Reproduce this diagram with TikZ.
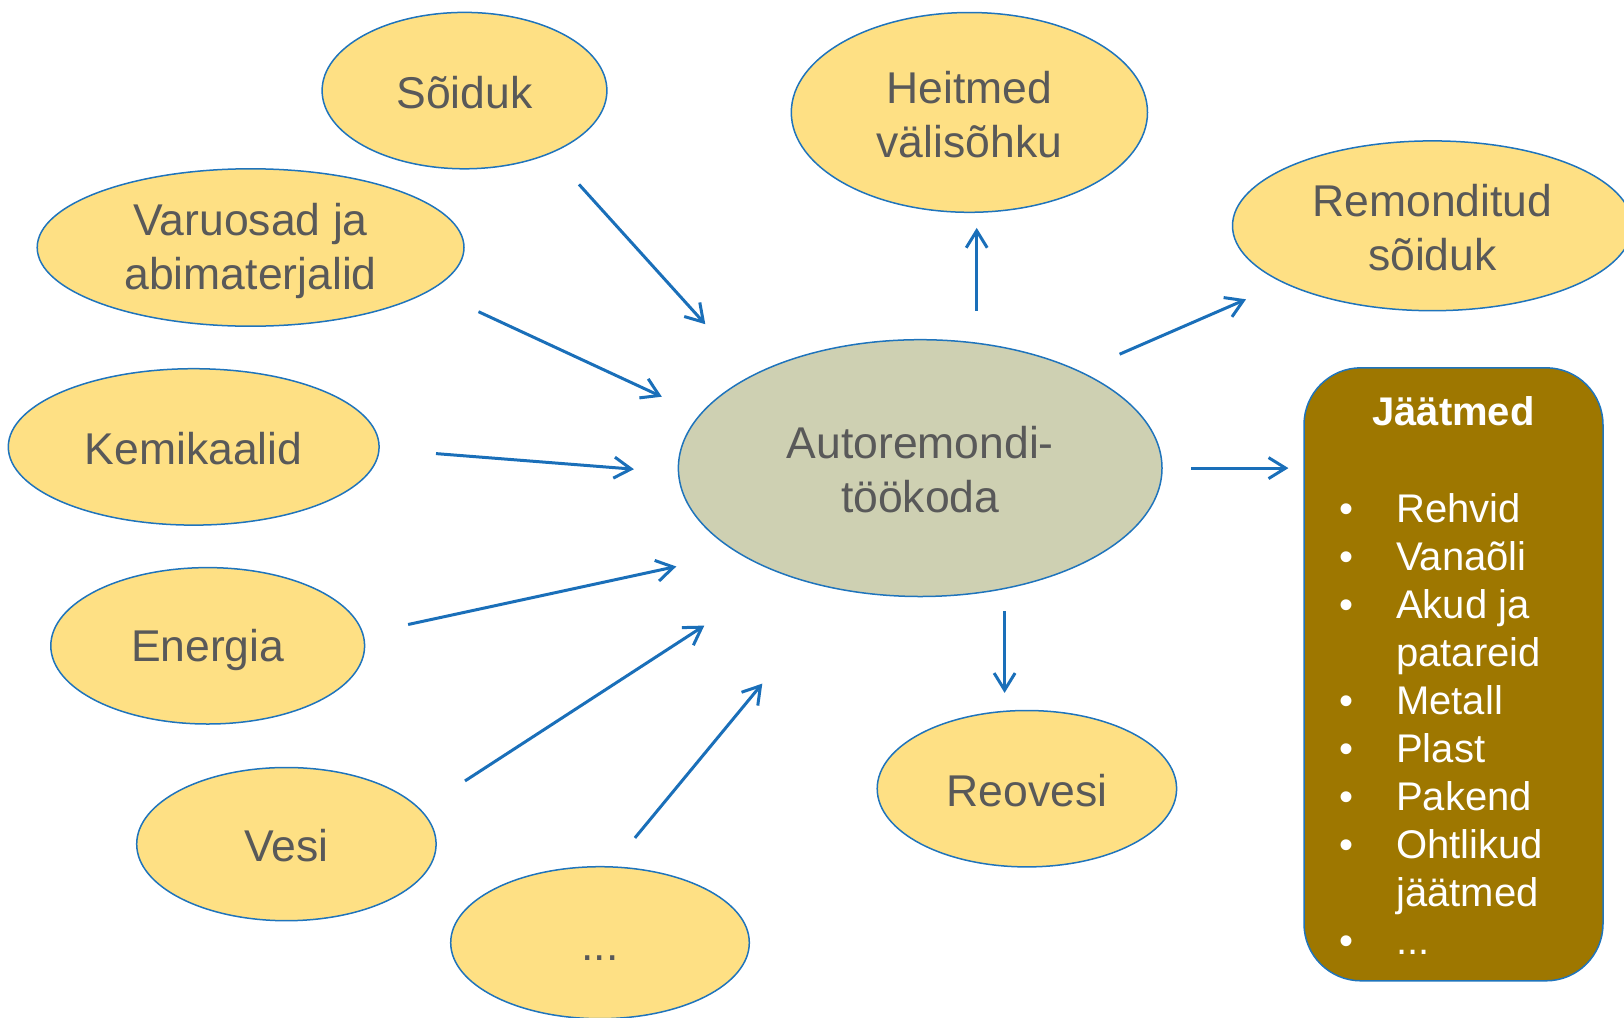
\documentclass[tikz,border=0pt]{standalone}
\usepackage{fontspec}
\setmainfont{Liberation Sans}
\usetikzlibrary{shapes.geometric,arrows.meta}
\definecolor{bubblefill}{HTML}{FEE084}
\definecolor{hubfill}{HTML}{CED0B2}
\definecolor{wastefill}{HTML}{9E7700}
\definecolor{edgeblue}{HTML}{1F74BC}
\definecolor{flowblue}{HTML}{1A6FB9}
\definecolor{txtgray}{HTML}{595959}
% uniform line strut so every label line is centred the same way
\newcommand{\bstr}{\rule[-0.1em]{0pt}{1em}}
\begin{document}
\begin{tikzpicture}[x=1pt,y=-1pt,
  bubble/.style={ellipse, draw=edgeblue, line width=1.5pt, fill=bubblefill,
    inner sep=0pt, text=txtgray, align=center,
    font=\fontsize{44.5}{54}\selectfont},
  flow/.style={draw=flowblue, line width=3pt,
    -{Straight Barb[length=17pt,width=21pt]}},
  boxtext/.style={text=white, inner sep=0pt, font=\fontsize{40}{48}\selectfont}]
\useasboundingbox (0,0) rectangle (1624,1017);

% input and output bubbles
\node[bubble, minimum width=284.8pt, minimum height=156.4pt] (soiduk) at (464.5,90.6) {\bstr Sõiduk};
\node[bubble, minimum width=356.2pt, minimum height=199.8pt] (heitmed) at (969.4,112.4) {\bstr Heitmed\\\bstr välisõhku};
\node[bubble, minimum width=399.8pt, minimum height=169.8pt] (remont) at (1432.4,225.8) {\bstr Remonditud\\\bstr sõiduk};
\node[bubble, minimum width=426.8pt, minimum height=157.4pt] (varuosad) at (250.6,247.5) {\bstr Varuosad ja\\\bstr abimaterjalid};
\node[bubble, minimum width=370.8pt, minimum height=156.4pt] (kemikaalid) at (193.7,446.9) {\bstr Kemikaalid};
\node[bubble, minimum width=313.8pt, minimum height=156.4pt] (energia) at (207.7,645.8) {\bstr Energia};
\node[bubble, minimum width=299.4pt, minimum height=153.2pt] (vesi) at (286.4,844.1) {\bstr Vesi};
\node[bubble, minimum width=298.6pt, minimum height=152pt] (muu) at (600,942.7) {\bstr ...};
\node[bubble, minimum width=299.4pt, minimum height=156.4pt] (reovesi) at (1026.9,788.7) {\bstr Reovesi};

% the workshop in the middle
\node[bubble, fill=hubfill, minimum width=483.6pt, minimum height=256.8pt] (hub) at (920.2,468.1) {\bstr Autoremondi-\\\bstr töökoda};

% waste box
\node[draw=edgeblue, line width=1.5pt, fill=wastefill, rounded corners=57pt,
  minimum width=299pt, minimum height=613pt, inner sep=0pt] (jaatmed) at (1453.5,674.3) {};
\node[boxtext, font=\bfseries\fontsize{40}{48}\selectfont, anchor=base] (jtitle) at (1453.5,425.5) {Jäätmed};
\node[boxtext, anchor=base west] (jlist) at (1339,522) {%
  \begin{tabular}[t]{@{}l@{\hspace{43pt}}l@{}}
  • & Rehvid\\
  • & Vanaõli\\
  • & Akud ja\\
    & patareid\\
  • & Metall\\
  • & Plast\\
  • & Pakend\\
  • & Ohtlikud\\
    & jäätmed\\
  • & ...
  \end{tabular}};

% arrow end points
\coordinate (a1s) at (579,184.4);    \coordinate (a1e) at (705.3,324.2);
\coordinate (a2s) at (478.5,311.7);  \coordinate (a2e) at (661.8,396.7);
\coordinate (a3s) at (436,453.6);    \coordinate (a3e) at (633.9,469.2);
\coordinate (a4s) at (408.1,624.5);  \coordinate (a4e) at (676.3,566.5);
\coordinate (a5s) at (465,780.9);    \coordinate (a5e) at (704.3,625.6);
\coordinate (a6s) at (634.9,837.9);  \coordinate (a6e) at (762.3,683.6);
\coordinate (b1s) at (976.7,310.7);  \coordinate (b1e) at (976.7,227.9);
\coordinate (b2s) at (1119.6,354.2); \coordinate (b2e) at (1246,299.3);
\coordinate (b3s) at (1191,468.1);   \coordinate (b3e) at (1288.4,468.1);
\coordinate (b4s) at (1004.6,611.1); \coordinate (b4e) at (1004.6,692.9);

% inflows
\draw[flow] (a1s) -- (a1e);
\draw[flow] (a2s) -- (a2e);
\draw[flow] (a3s) -- (a3e);
\draw[flow] (a4s) -- (a4e);
\draw[flow] (a5s) -- (a5e);
\draw[flow] (a6s) -- (a6e);
% outflows
\draw[flow] (b1s) -- (b1e);
\draw[flow] (b2s) -- (b2e);
\draw[flow] (b3s) -- (b3e);
\draw[flow] (b4s) -- (b4e);
\end{tikzpicture}
\end{document}
